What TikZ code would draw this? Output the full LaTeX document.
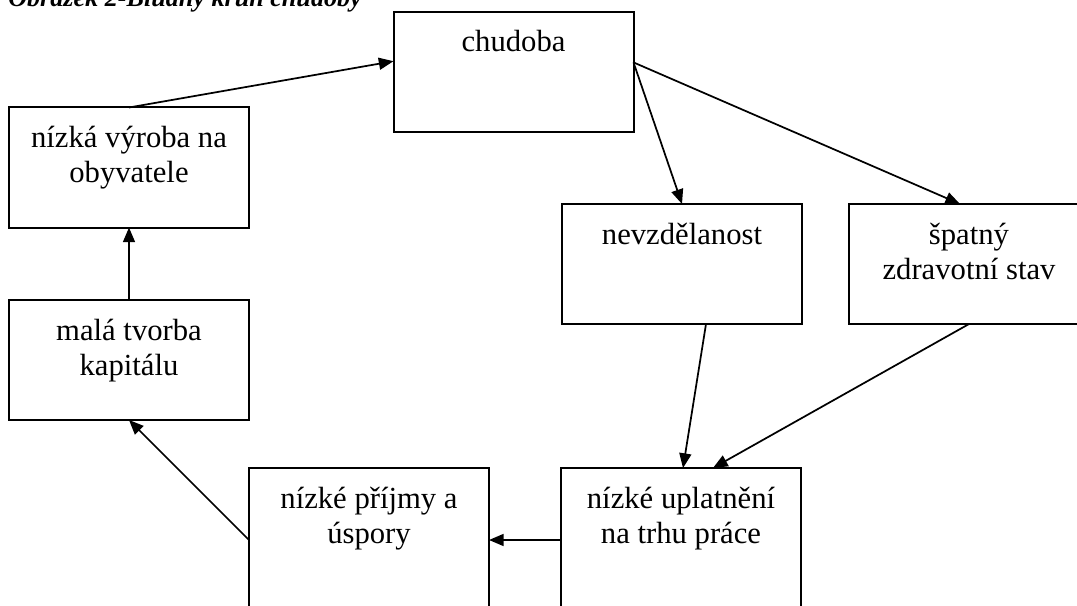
\documentclass[tikz,border=0pt]{standalone}
\usepackage{fontspec}
\setmainfont{Liberation Serif}
\usetikzlibrary{arrows.meta,calc}
\begin{document}
\begin{tikzpicture}[x=0.75pt,y=-0.75pt,
  box/.style={draw=black,line width=1.5pt,rectangle,minimum width=180pt,minimum height=90pt,inner sep=0pt,outer sep=0pt},
  tallbox/.style={box,minimum height=150pt},
  txt/.style={font=\fontsize{23}{26}\selectfont,inner sep=0pt,anchor=base},
  conn/.style={line width=1.3pt,-{Triangle[length=11pt,width=9pt]}}]
\useasboundingbox (0,0) rectangle (1077,606);
\clip (0,0) rectangle (1077,606);
\fill[white] (0,0) rectangle (1077,606);
% title (cut at top)
\node[font=\fontsize{19.6}{22}\selectfont\bfseries\itshape,inner sep=0pt,anchor=base west] (title) at (8,7) {Obrázek 2-Bludný kruh chudoby};
% boxes
\node[box] (chud) at (513.5,72) {};
\node[box] (vyr) at (129,167.5) {};
\node[box] (kap) at (129,360) {};
\node[box] (nevz) at (682,264) {};
\node[box] (spat) at (969,264) {};
\node[tallbox] (prij) at (369,568) {};
\node[tallbox] (upl) at (681,568) {};
% texts
\node[txt] (chudT) at (513.5,52) {chudoba};
\node[txt] (vyrTa) at (129,147) {nízká výroba na};
\node[txt] (vyrTb) at (129,182) {obyvatele};
\node[txt] (kapTa) at (129,340) {malá tvorba};
\node[txt] (kapTb) at (129,375) {kapitálu};
\node[txt] (nevzT) at (682,244) {nevzdělanost};
\node[txt] (spatTa) at (969,244) {špatný};
\node[txt] (spatTb) at (969,279) {zdravotní stav};
\node[txt] (prijTa) at (369,508) {nízké příjmy a};
\node[txt] (prijTb) at (369,543) {úspory};
\node[txt] (uplTa) at (681,508) {nízké uplatnění};
\node[txt] (uplTb) at (681,543) {na trhu práce};
% connectors
\draw[conn] (vyr.north) -- ($(chud.north west)!0.41!(chud.south west)$);
\draw[conn] ($(chud.north east)!0.42!(chud.south east)$) -- (nevz.north);
\draw[conn] ($(chud.north east)!0.42!(chud.south east)$) -- ([xshift=-6.75pt]spat.north);
\draw[conn] ([xshift=18pt]nevz.south) -- ([xshift=1.5pt]upl.north);
\draw[conn] (spat.south) -- ([xshift=24pt]upl.north);
\draw[conn] ($(upl.north west)+(0,72)$) -- ($(prij.north east)+(0,72)$);
\draw[conn] ($(prij.north west)+(0,72)$) -- (kap.south);
\draw[conn] (kap.north) -- (vyr.south);
\end{tikzpicture}
\end{document}
